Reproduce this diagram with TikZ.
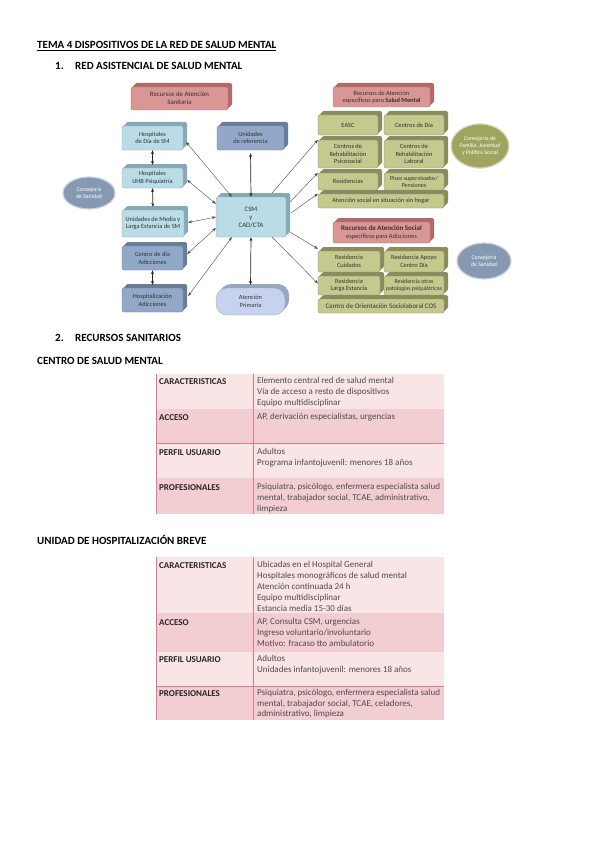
\documentclass[tikz,border=0pt]{standalone}
\usepackage{fontspec}
\setmainfont{Carlito}
\usetikzlibrary{shadows,arrows.meta,shapes.geometric}
\definecolor{redF}{HTML}{D99694}
\definecolor{redS}{HTML}{B06A68}
\definecolor{lbF}{HTML}{B9DCE6}
\definecolor{lbS}{HTML}{87A8B4}
\definecolor{dbF}{HTML}{91A8C8}
\definecolor{dbS}{HTML}{687D99}
\definecolor{apF}{HTML}{C7D3EE}
\definecolor{apS}{HTML}{9AA6C0}
\definecolor{olF}{HTML}{C5C98D}
\definecolor{olS}{HTML}{8A8C60}
\definecolor{elB}{HTML}{8599B2}
\definecolor{elO}{HTML}{9FA55E}
\definecolor{pkL}{HTML}{F9E4E6}
\definecolor{pkD}{HTML}{F2CDD2}
\definecolor{pkLine}{HTML}{E4788A}
\tikzset{
  extrude/.style 2 args={
    general shadow={fill=#1, shadow xshift=4pt, shadow yshift=4pt, rounded corners=#2},
    general shadow={fill=#1, shadow xshift=3pt, shadow yshift=3pt, rounded corners=#2},
    general shadow={fill=#1, shadow xshift=2pt, shadow yshift=2pt, rounded corners=#2},
    general shadow={fill=#1, shadow xshift=1pt, shadow yshift=1pt, rounded corners=#2}},
  boxthree/.style 2 args={draw=#2, line width=0.3pt, fill=#1, rounded corners=2pt,
    extrude={#2}{2pt},
    font=\fontsize{6.4}{7.6}\selectfont, align=center, inner sep=0.5pt, text=black!80},
  sz/.style 2 args={minimum width=#1pt, minimum height=#2pt},
  ell/.style 2 args={ellipse, draw=#1!45!white, line width=1.2pt, fill=#1, text=white,
    font=\fontsize{5.8}{7}\selectfont, align=center, inner sep=0pt, minimum width=#2},
  conn/.style={{Stealth[length=4pt,width=3pt]}-{Stealth[length=4pt,width=3pt]}, line width=0.4pt, black!70},
  oneway/.style={-{Stealth[length=4pt,width=3pt]}, line width=0.4pt, black!70},
  vconn/.style={{Stealth[length=4pt,width=3pt]}-{Stealth[length=4pt,width=3pt]}, line width=0.7pt, black!85},
  head/.style={anchor=base west, inner sep=0pt, font=\bfseries\fontsize{11}{13}\selectfont},
  lcell/.style={anchor=north west, inner sep=0pt, align=left, text=black!85, font=\bfseries\fontsize{9}{11}\selectfont},
  rcell/.style={anchor=north west, inner sep=0pt, align=left, text=black!70, font=\fontsize{9}{11}\selectfont},
}
\begin{document}
\begin{tikzpicture}[x=1pt,y=-1pt]
\useasboundingbox[fill=white] (0,0) rectangle (599,848);
% headings
\node[head] (title) at (37,48.5) {\underline{TEMA 4 DISPOSITIVOS DE LA RED DE SALUD MENTAL}};
\node[head] (n1) at (55,69.5) {1.};
\node[head] (h1) at (75,69.5) {RED ASISTENCIAL DE SALUD MENTAL};
% left/centre diagram
\node[boxthree={redF}{redS}, sz={97}{23}, font=\fontsize{6.8}{8}\selectfont] (redA) at (179.5,98.5) {Recursos de Atención\\Sanitaria};
\node[boxthree={lbF}{lbS}, sz={61}{24}] (hdia) at (152.5,138) {Hospitales\\de Día de SM};
\node[boxthree={lbF}{lbS}, sz={61}{20}] (uhb) at (152.5,178) {Hospitales\\UHB Psiquiatría};
\node[boxthree={lbF}{lbS}, sz={62}{27}] (ume) at (153,223.5) {Unidades de Media y\\Larga Estancia de SM};
\node[boxthree={dbF}{dbS}, sz={61}{24}] (cda) at (152.5,258) {Centro de día\\Adicciones};
\node[boxthree={dbF}{dbS}, sz={61}{24}] (hadic) at (152.5,300) {Hospitalización\\Adicciones};
\node[boxthree={dbF}{dbS}, sz={67}{24}] (uref) at (250.5,138) {Unidades\\de referencia};
\node[boxthree={lbF}{lbS}, sz={70}{40}, font=\fontsize{6.8}{8}\selectfont] (csm) at (251,217) {CSM\\y\\CAD/CTA};
\node[draw=apS, line width=0.3pt, fill=apF, rounded corners=11pt, extrude={apS}{11pt},
  font=\fontsize{6.4}{7.6}\selectfont, align=center, inner sep=0.5pt, text=black!80, sz={69}{27}] (ap) at (250.5,301.5) {Atención\\Primaria};
\node[ell={elB}{52pt}, minimum height=32pt] (eL) at (89,193) {Consejería\\de Sanidad};
% right: salud mental
\node[boxthree={redF}{redS}, sz={97}{20}, font=\fontsize{6.4}{7.4}\selectfont] (redB) at (381.5,97) {Recursos de Atención\\específicos para \textbf{Salud Mental}};
\node[boxthree={olF}{olS}, sz={60}{20}] (easc) at (348,125) {EASC};
\node[boxthree={olF}{olS}, sz={60}{20}] (cdia) at (414,125) {Centros de Día};
\node[boxthree={olF}{olS}, sz={60}{28}] (crps) at (348,154) {Centros de\\Rehabilitación\\Psicosocial};
\node[boxthree={olF}{olS}, sz={60}{28}] (crl) at (414,154) {Centros de\\Rehabilitación\\Laboral};
\node[boxthree={olF}{olS}, sz={60}{17}] (resid) at (348,181.5) {Residencias};
\node[boxthree={olF}{olS}, sz={60}{17}, font=\fontsize{6}{7}\selectfont] (pisos) at (414,181.5) {Pisos supervisados/\\Pensiones};
\node[boxthree={olF}{olS}, sz={126}{14}] (sinhogar) at (381,201) {Atención social en situación sin hogar};
\node[ell={elO}{46pt}, minimum height=44pt] (eF) at (480,146) {Consejería de\\Familia, Juventud\\y Política Social};
% right: adicciones
\node[boxthree={redF}{redS}, sz={97}{21}] (redC) at (381.5,232.5) {{\fontsize{7}{8}\selectfont\bfseries Recursos de Atención Social}\\específicos para Adicciones};
\node[boxthree={olF}{olS}, sz={62}{21}] (rcuid) at (349,261.5) {Residencia\\Cuidados};
\node[boxthree={olF}{olS}, sz={60}{21}] (rapoyo) at (414,261.5) {Residencia Apoyo\\Centro Día};
\node[boxthree={olF}{olS}, sz={62}{19}] (rlarga) at (349,285.5) {Residencia\\Larga Estancia};
\node[boxthree={olF}{olS}, sz={60}{19}, font=\fontsize{5.9}{7}\selectfont] (rotras) at (414,285.5) {Residencia otras\\patologías psiquiátricas};
\node[boxthree={olF}{olS}, sz={126}{14}, font=\fontsize{6.9}{8}\selectfont] (cos) at (381,306) {Centro de Orientación Sociolaboral COS};
\node[ell={elB}{54pt}, minimum height=36pt] (eS) at (484,261) {Consejería\\de Sanidad};
% connectors
\draw[vconn, shorten >=3pt] (hdia.south) -- (uhb.north);
\draw[vconn, shorten >=3pt] (uhb.south) -- (ume.north);
\draw[vconn, shorten >=3pt] (cda.south) -- (hadic.north);
\draw[vconn, shorten >=3pt] (csm.north) -- (uref.south);
\draw[vconn, shorten >=3pt] (csm.south) -- (ap.north);
\draw[conn] ([xshift=3pt,yshift=-4pt]hdia.east) -- ([xshift=16pt]csm.north west);
\draw[conn] ([xshift=4pt,yshift=-2pt]uhb.east) -- ([yshift=-7pt]csm.north west);
\draw[conn] ([xshift=4pt,yshift=1pt]ume.east) -- (csm.west);
\draw[conn] ([xshift=4pt,yshift=4pt]cda.east) -- ([yshift=-11pt]csm.west);
\draw[conn] ([xshift=5pt,yshift=4pt]hadic.east) -- ([xshift=16pt]csm.south west);
\draw[oneway] ([xshift=-14pt,yshift=4pt]csm.north east) -- (crps.north west);
\draw[oneway] ([xshift=4pt,yshift=-5pt]csm.north east) -- (resid.north west);
\draw[oneway] ([xshift=5pt,yshift=-16pt]csm.north east) -- (sinhogar.north west);
\draw[oneway] ([xshift=4pt,yshift=5pt]csm.south east) -- ([yshift=2pt]rcuid.north west);
\draw[oneway] ([xshift=-14pt]csm.south east) -- ([yshift=2pt]rlarga.west);
% section 2
\node[head] (n2) at (55,341.5) {2.};
\node[head] (h2) at (75,341.5) {RECURSOS SANITARIOS};
\node[head] (h3) at (37,364.5) {CENTRO DE SALUD MENTAL};
% table 1
\fill[pkL] (156,374) rectangle (444,409);
\fill[pkD] (156,409) rectangle (444,443);
\fill[pkL] (156,443) rectangle (444,478);
\fill[pkD] (156,478) rectangle (444,514);
\draw[pkLine, line width=0.7pt] (156,374) -- (156,514);
\draw[pkLine, line width=0.7pt] (253,374) -- (253,514);
\draw[pkLine, line width=0.7pt] (156,443) -- (444,443);
\node[lcell] (t1a) at (159,378) {CARACTERISTICAS};
\node[rcell] (t1b) at (257,377.5) {Elemento central red de salud mental\\Vía de acceso a resto de dispositivos\\Equipo multidisciplinar};
\node[lcell] (t1c) at (159,414) {ACCESO};
\node[rcell] (t1d) at (257,413.5) {AP, derivación especialistas, urgencias};
\node[lcell] (t1e) at (159,449) {PERFIL USUARIO};
\node[rcell] (t1f) at (257,448.5) {Adultos\\Programa infantojuvenil: menores 18 años};
\node[lcell] (t1g) at (159,484) {PROFESIONALES};
\node[rcell] (t1h) at (257,483.5) {Psiquiatra, psicólogo, enfermera especialista salud\\mental, trabajador social, TCAE, administrativo,\\limpieza};
% table 2
\node[head] (h4) at (37,544.5) {UNIDAD DE HOSPITALIZACIÓN BREVE};
\fill[pkL] (156,557) rectangle (444,613);
\fill[pkD] (156,613) rectangle (444,652);
\fill[pkL] (156,652) rectangle (444,686);
\fill[pkD] (156,686) rectangle (444,720);
\draw[pkLine, line width=0.7pt] (156,557) -- (156,720);
\draw[pkLine, line width=0.7pt] (253,557) -- (253,720);
\draw[pkLine, line width=0.7pt] (156,686) -- (444,686);
\node[lcell] (t2a) at (159,562) {CARACTERISTICAS};
\node[rcell] (t2b) at (257,561.5) {Ubicadas en el Hospital General\\Hospitales monográficos de salud mental\\Atención continuada 24 h\\Equipo multidisciplinar\\Estancia media 15-30 días};
\node[lcell] (t2c) at (159,619) {ACCESO};
\node[rcell] (t2d) at (257,618.5) {AP, Consulta CSM, urgencias\\Ingreso voluntario/involuntario\\Motivo: fracaso tto ambulatorio};
\node[lcell] (t2e) at (159,656) {PERFIL USUARIO};
\node[rcell, font=\fontsize{9}{10.5}\selectfont] (t2f) at (257,655.5) {Adultos\\Unidades infantojuvenil: menores 18 años};
\node[lcell] (t2g) at (159,690) {PROFESIONALES};
\node[rcell, font=\fontsize{9}{10.5}\selectfont] (t2h) at (257,689.5) {Psiquiatra, psicólogo, enfermera especialista salud\\mental, trabajador social, TCAE, celadores,\\administrativo, limpieza};
\end{tikzpicture}
\end{document}
